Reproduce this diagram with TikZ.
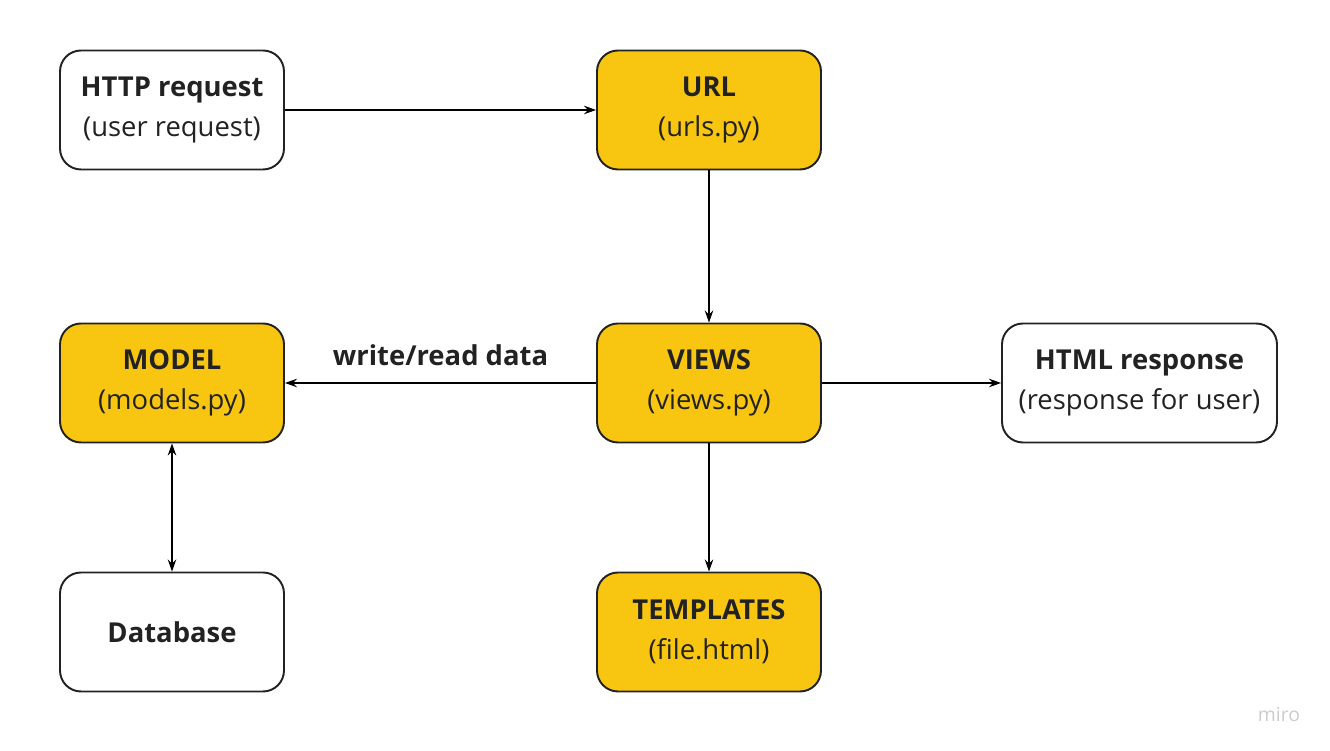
\documentclass[tikz,border=0pt]{standalone}
\usepackage{fontspec}
\setmainfont{Open Sans}
\usetikzlibrary{arrows.meta}
\definecolor{miroyellow}{HTML}{F8C611}
\definecolor{miroedge}{HTML}{222222}
\tikzset{
	box/.style={draw=miroedge, line width=1.1pt, rounded corners=0.42cm, minimum width=4.48cm, minimum height=2.38cm, align=center, font=\fontsize{15.6}{22.8}\selectfont, text=miroedge},
	yellowbox/.style={box, fill=miroyellow},
	whitebox/.style={box, fill=white},
	link/.style={line width=0.7pt, -{Stealth[length=0.24cm, width=0.17cm]}},
}
\begin{document}
\begin{tikzpicture}
			%%%%% START %%%%%
			
			\useasboundingbox[fill=white] (0, 0) rectangle (26.6, 15.02);
			
			\node[whitebox] (http) at (3.44, 12.82) {\textbf{HTTP request}\\(user request)};
			\node[yellowbox] (url) at (14.18, 12.82) {\textbf{URL}\\(urls.py)};
			
			\node[yellowbox] (model) at (3.44, 7.36) {\textbf{MODEL}\\(models.py)};
			\node[yellowbox] (views) at (14.18, 7.36) {\textbf{VIEWS}\\(views.py)};
			\node[whitebox, minimum width=5.5cm] (html) at (22.79, 7.36) {\textbf{HTML response}\\(response for user)};
			
			\node[whitebox] (db) at (3.44, 2.38) {\textbf{Database}};
			\node[yellowbox] (templates) at (14.18, 2.38) {\textbf{TEMPLATES}\\(file.html)};
			
			\draw[link] (http) -- (url);
			\draw[link] (url) -- (views);
			\draw[link] (views) -- (model) node[midway, above=0.22cm, font=\fontsize{15.6}{18}\selectfont\bfseries, text=miroedge] (rw) {write/read data};
			\draw[link] (views) -- (html);
			\draw[link] (views) -- (templates);
			\draw[link, {Stealth[length=0.24cm, width=0.17cm]}-{Stealth[length=0.24cm, width=0.17cm]}] (model) -- (db);
			
			\node[text=black!20, font=\fontsize{11}{12}\selectfont] (miro) at (25.58, 0.72) {miro};
			
			%%%%% END %%%%%
\end{tikzpicture}
\end{document}
